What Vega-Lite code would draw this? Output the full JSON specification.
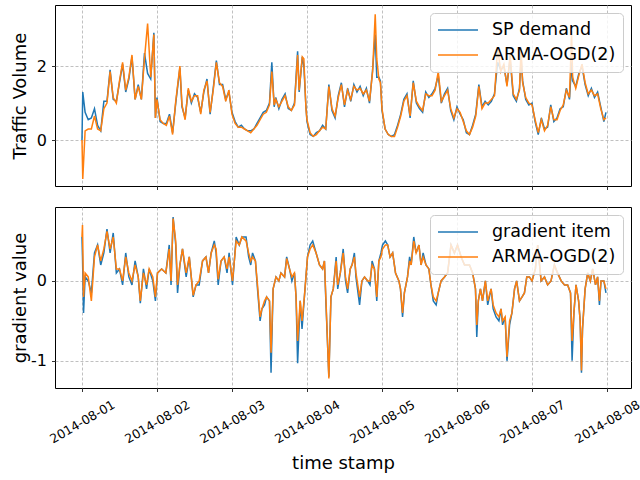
{
  "$schema": "https://vega.github.io/schema/vega-lite/v6.json",
  "padding": {"left": 10, "top": 4, "right": 0, "bottom": 0},
  "background": "white",
  "config": {
    "font": "DejaVu Sans",
    "view": {"stroke": "#000000", "strokeWidth": 1},
    "axis": {"grid": true, "gridColor": "#b0b0b0", "gridDash": [3, 2], "gridWidth": 0.8, "domain": false, "tickColor": "#000000", "tickSize": 3.5, "tickWidth": 0.8, "labelColor": "#000000", "labelFontSize": 16, "titleColor": "#000000", "titleFontWeight": "normal", "titleFontSize": 18},
    "legend": {"orient": "top-right", "offset": 8, "fillColor": "rgba(255,255,255,0.8)", "strokeColor": "#cccccc", "cornerRadius": 4, "padding": 7, "symbolType": "stroke", "symbolSize": 1600, "symbolStrokeWidth": 1.5, "labelFontSize": 17.5, "labelOffset": 13, "clipHeight": 20, "rowPadding": 5, "labelColor": "#000000"}
  },
  "datasets": {
    "top": [
      {"t":"2014-08-01T00:00","a":0,"b":0},
      {"t":"2014-08-01T00:15","a":1.3,"b":-1.05},
      {"t":"2014-08-01T01:00","a":0.75,"b":0.25},
      {"t":"2014-08-01T02:00","a":0.55,"b":0.3},
      {"t":"2014-08-01T03:00","a":0.6,"b":0.3},
      {"t":"2014-08-01T04:00","a":0.85,"b":0.65},
      {"t":"2014-08-01T05:00","a":0.4,"b":0.3},
      {"t":"2014-08-01T06:00","a":0.25,"b":0.25},
      {"t":"2014-08-01T07:00","a":1.05,"b":0.85},
      {"t":"2014-08-01T08:00","a":1.05,"b":1.0},
      {"t":"2014-08-01T09:00","a":1.9,"b":1.85},
      {"t":"2014-08-01T10:00","a":1.1,"b":1.15},
      {"t":"2014-08-01T11:00","a":1.05,"b":1.0},
      {"t":"2014-08-01T12:00","a":1.55,"b":1.6},
      {"t":"2014-08-01T13:00","a":2.05,"b":2.1},
      {"t":"2014-08-01T14:00","a":1.3,"b":1.35},
      {"t":"2014-08-01T15:00","a":1.65,"b":1.7},
      {"t":"2014-08-01T16:00","a":2.25,"b":2.3},
      {"t":"2014-08-01T17:00","a":1.1,"b":1.1},
      {"t":"2014-08-01T18:00","a":1.5,"b":1.45},
      {"t":"2014-08-01T19:00","a":1.1,"b":1.1},
      {"t":"2014-08-01T20:00","a":2.35,"b":2.2},
      {"t":"2014-08-01T21:00","a":1.8,"b":3.15},
      {"t":"2014-08-01T22:00","a":1.65,"b":1.7},
      {"t":"2014-08-01T23:00","a":2.9,"b":2.85},
      {"t":"2014-08-01T23:30","a":0.6,"b":0.6},
      {"t":"2014-08-02T00:00","a":1.15,"b":1.1},
      {"t":"2014-08-02T01:00","a":0.5,"b":0.55},
      {"t":"2014-08-02T02:00","a":0.45,"b":0.45},
      {"t":"2014-08-02T03:00","a":0.45,"b":0.4},
      {"t":"2014-08-02T04:00","a":0.7,"b":0.65},
      {"t":"2014-08-02T05:00","a":0.2,"b":0.15},
      {"t":"2014-08-02T06:00","a":1.0,"b":1.05},
      {"t":"2014-08-02T07:20","a":1.95,"b":2.0},
      {"t":"2014-08-02T08:00","a":0.9,"b":0.95},
      {"t":"2014-08-02T09:00","a":0.6,"b":0.55},
      {"t":"2014-08-02T10:00","a":1.35,"b":1.4},
      {"t":"2014-08-02T11:00","a":1.0,"b":1.05},
      {"t":"2014-08-02T12:00","a":1.25,"b":1.2},
      {"t":"2014-08-02T13:00","a":1.15,"b":1.2},
      {"t":"2014-08-02T14:00","a":0.75,"b":0.7},
      {"t":"2014-08-02T15:00","a":1.3,"b":1.35},
      {"t":"2014-08-02T16:00","a":1.65,"b":1.6},
      {"t":"2014-08-02T17:00","a":0.7,"b":0.75},
      {"t":"2014-08-02T18:00","a":1.4,"b":1.35},
      {"t":"2014-08-02T19:00","a":2.15,"b":2.1},
      {"t":"2014-08-02T20:00","a":1.5,"b":1.55},
      {"t":"2014-08-02T21:00","a":1.5,"b":1.45},
      {"t":"2014-08-02T22:00","a":1.1,"b":1.05},
      {"t":"2014-08-02T23:00","a":1.3,"b":1.35},
      {"t":"2014-08-03T00:00","a":0.75,"b":0.7},
      {"t":"2014-08-03T01:00","a":0.5,"b":0.45},
      {"t":"2014-08-03T02:00","a":0.35,"b":0.35},
      {"t":"2014-08-03T03:00","a":0.4,"b":0.35},
      {"t":"2014-08-03T04:00","a":0.3,"b":0.3},
      {"t":"2014-08-03T05:00","a":0.25,"b":0.25},
      {"t":"2014-08-03T06:00","a":0.25,"b":0.2},
      {"t":"2014-08-03T07:00","a":0.3,"b":0.3},
      {"t":"2014-08-03T08:00","a":0.45,"b":0.4},
      {"t":"2014-08-03T09:00","a":0.6,"b":0.55},
      {"t":"2014-08-03T10:00","a":0.75,"b":0.7},
      {"t":"2014-08-03T11:00","a":0.8,"b":0.75},
      {"t":"2014-08-03T12:00","a":1.0,"b":0.95},
      {"t":"2014-08-03T12:45","a":2.1,"b":1.85},
      {"t":"2014-08-03T13:30","a":0.9,"b":0.95},
      {"t":"2014-08-03T14:00","a":1.15,"b":1.1},
      {"t":"2014-08-03T15:00","a":0.85,"b":0.9},
      {"t":"2014-08-03T16:00","a":1.1,"b":1.05},
      {"t":"2014-08-03T17:00","a":1.25,"b":1.2},
      {"t":"2014-08-03T18:00","a":0.85,"b":0.9},
      {"t":"2014-08-03T19:00","a":0.8,"b":0.8},
      {"t":"2014-08-03T20:00","a":1.0,"b":0.95},
      {"t":"2014-08-03T21:00","a":2.4,"b":2.3},
      {"t":"2014-08-03T21:30","a":1.3,"b":1.35},
      {"t":"2014-08-03T22:30","a":2.25,"b":2.25},
      {"t":"2014-08-03T23:00","a":2.0,"b":2.2},
      {"t":"2014-08-03T23:40","a":0.9,"b":0.85},
      {"t":"2014-08-04T00:00","a":0.5,"b":0.55},
      {"t":"2014-08-04T01:00","a":0.15,"b":0.2},
      {"t":"2014-08-04T02:00","a":0.1,"b":0.1},
      {"t":"2014-08-04T03:00","a":0.2,"b":0.15},
      {"t":"2014-08-04T04:00","a":0.25,"b":0.25},
      {"t":"2014-08-04T05:00","a":0.4,"b":0.35},
      {"t":"2014-08-04T06:00","a":0.3,"b":0.3},
      {"t":"2014-08-04T07:00","a":1.5,"b":1.45},
      {"t":"2014-08-04T08:00","a":0.8,"b":0.85},
      {"t":"2014-08-04T09:00","a":0.6,"b":0.65},
      {"t":"2014-08-04T10:00","a":1.2,"b":1.15},
      {"t":"2014-08-04T11:00","a":1.55,"b":1.5},
      {"t":"2014-08-04T12:00","a":0.9,"b":0.95},
      {"t":"2014-08-04T13:00","a":1.4,"b":1.35},
      {"t":"2014-08-04T14:00","a":1.05,"b":1.1},
      {"t":"2014-08-04T15:00","a":1.5,"b":1.45},
      {"t":"2014-08-04T16:00","a":1.3,"b":1.35},
      {"t":"2014-08-04T17:00","a":1.45,"b":1.4},
      {"t":"2014-08-04T18:00","a":1.2,"b":1.25},
      {"t":"2014-08-04T19:00","a":1.4,"b":1.35},
      {"t":"2014-08-04T20:00","a":1.0,"b":1.05},
      {"t":"2014-08-04T21:00","a":1.9,"b":1.85},
      {"t":"2014-08-04T21:50","a":2.85,"b":3.4},
      {"t":"2014-08-04T22:20","a":1.7,"b":2.2},
      {"t":"2014-08-04T23:00","a":1.7,"b":1.65},
      {"t":"2014-08-04T23:30","a":1.6,"b":1.55},
      {"t":"2014-08-05T00:00","a":0.8,"b":0.85},
      {"t":"2014-08-05T01:00","a":0.3,"b":0.3},
      {"t":"2014-08-05T02:00","a":0.15,"b":0.15},
      {"t":"2014-08-05T03:00","a":0.1,"b":0.1},
      {"t":"2014-08-05T04:00","a":0.15,"b":0.1},
      {"t":"2014-08-05T05:00","a":0.4,"b":0.35},
      {"t":"2014-08-05T06:00","a":0.7,"b":0.65},
      {"t":"2014-08-05T07:00","a":1.1,"b":1.05},
      {"t":"2014-08-05T08:00","a":1.25,"b":1.2},
      {"t":"2014-08-05T09:00","a":0.6,"b":0.65},
      {"t":"2014-08-05T10:00","a":1.6,"b":1.55},
      {"t":"2014-08-05T11:00","a":1.0,"b":1.05},
      {"t":"2014-08-05T12:00","a":0.85,"b":0.9},
      {"t":"2014-08-05T13:00","a":0.75,"b":0.8},
      {"t":"2014-08-05T14:00","a":1.3,"b":1.25},
      {"t":"2014-08-05T15:00","a":1.15,"b":1.2},
      {"t":"2014-08-05T16:00","a":1.25,"b":1.2},
      {"t":"2014-08-05T17:00","a":1.4,"b":1.35},
      {"t":"2014-08-05T18:00","a":1.75,"b":1.85},
      {"t":"2014-08-05T19:00","a":1.0,"b":1.05},
      {"t":"2014-08-05T20:00","a":1.25,"b":1.2},
      {"t":"2014-08-05T21:00","a":1.4,"b":1.35},
      {"t":"2014-08-05T22:00","a":0.8,"b":0.85},
      {"t":"2014-08-05T23:00","a":0.55,"b":0.6},
      {"t":"2014-08-06T00:00","a":0.9,"b":0.85},
      {"t":"2014-08-06T01:00","a":0.7,"b":0.75},
      {"t":"2014-08-06T02:00","a":0.55,"b":0.5},
      {"t":"2014-08-06T03:00","a":0.2,"b":0.25},
      {"t":"2014-08-06T04:00","a":0.15,"b":0.15},
      {"t":"2014-08-06T05:00","a":0.4,"b":0.35},
      {"t":"2014-08-06T06:00","a":0.7,"b":0.65},
      {"t":"2014-08-06T07:00","a":1.5,"b":1.45},
      {"t":"2014-08-06T08:00","a":0.9,"b":0.85},
      {"t":"2014-08-06T09:00","a":1.05,"b":1.0},
      {"t":"2014-08-06T10:00","a":0.95,"b":1.0},
      {"t":"2014-08-06T11:00","a":1.05,"b":1.1},
      {"t":"2014-08-06T12:00","a":1.25,"b":1.2},
      {"t":"2014-08-06T13:00","a":2.1,"b":2.5},
      {"t":"2014-08-06T14:00","a":1.9,"b":1.85},
      {"t":"2014-08-06T15:00","a":2.0,"b":2.05},
      {"t":"2014-08-06T16:00","a":1.5,"b":1.45},
      {"t":"2014-08-06T17:00","a":2.2,"b":2.3},
      {"t":"2014-08-06T18:00","a":1.2,"b":1.25},
      {"t":"2014-08-06T19:00","a":1.05,"b":1.1},
      {"t":"2014-08-06T20:00","a":1.4,"b":1.35},
      {"t":"2014-08-06T20:30","a":2.2,"b":2.5},
      {"t":"2014-08-06T21:00","a":1.6,"b":1.55},
      {"t":"2014-08-06T22:00","a":1.1,"b":1.15},
      {"t":"2014-08-06T23:00","a":0.95,"b":1.0},
      {"t":"2014-08-07T00:00","a":1.0,"b":0.95},
      {"t":"2014-08-07T01:00","a":0.5,"b":0.55},
      {"t":"2014-08-07T02:00","a":0.15,"b":0.2},
      {"t":"2014-08-07T03:00","a":0.6,"b":0.55},
      {"t":"2014-08-07T04:00","a":0.3,"b":0.25},
      {"t":"2014-08-07T05:00","a":0.35,"b":0.4},
      {"t":"2014-08-07T06:00","a":0.95,"b":0.9},
      {"t":"2014-08-07T07:00","a":0.5,"b":0.55},
      {"t":"2014-08-07T08:00","a":0.6,"b":0.55},
      {"t":"2014-08-07T09:00","a":0.85,"b":0.8},
      {"t":"2014-08-07T10:00","a":0.9,"b":0.95},
      {"t":"2014-08-07T11:00","a":1.4,"b":1.35},
      {"t":"2014-08-07T12:00","a":1.1,"b":1.15},
      {"t":"2014-08-07T12:40","a":2.1,"b":2.95},
      {"t":"2014-08-07T13:00","a":1.6,"b":1.7},
      {"t":"2014-08-07T14:00","a":1.45,"b":1.4},
      {"t":"2014-08-07T15:00","a":1.8,"b":1.75},
      {"t":"2014-08-07T16:00","a":2.0,"b":2.05},
      {"t":"2014-08-07T17:00","a":1.5,"b":1.55},
      {"t":"2014-08-07T18:00","a":1.2,"b":1.25},
      {"t":"2014-08-07T19:00","a":1.4,"b":1.35},
      {"t":"2014-08-07T20:00","a":1.15,"b":1.2},
      {"t":"2014-08-07T21:00","a":1.3,"b":1.25},
      {"t":"2014-08-07T22:00","a":0.9,"b":0.85},
      {"t":"2014-08-07T23:00","a":0.5,"b":0.55},
      {"t":"2014-08-07T23:40","a":0.75,"b":0.6}
    ],
    "bot": [
      {"t":"2014-08-01T00:00","g":0.55,"q":0.55},
      {"t":"2014-08-01T00:10","g":0.3,"q":0.7},
      {"t":"2014-08-01T00:30","g":-0.4,"q":-0.2},
      {"t":"2014-08-01T01:00","g":0.05,"q":0.1},
      {"t":"2014-08-01T02:00","g":0.0,"q":0.05},
      {"t":"2014-08-01T03:00","g":-0.15,"q":-0.25},
      {"t":"2014-08-01T04:00","g":0.35,"q":0.3},
      {"t":"2014-08-01T05:00","g":0.45,"q":0.45},
      {"t":"2014-08-01T06:00","g":0.2,"q":0.25},
      {"t":"2014-08-01T07:00","g":0.35,"q":0.4},
      {"t":"2014-08-01T08:00","g":0.65,"q":0.62},
      {"t":"2014-08-01T09:00","g":0.35,"q":0.4},
      {"t":"2014-08-01T10:00","g":0.6,"q":0.55},
      {"t":"2014-08-01T11:00","g":0.1,"q":0.15},
      {"t":"2014-08-01T12:00","g":0.15,"q":0.15},
      {"t":"2014-08-01T13:00","g":-0.05,"q":0.0},
      {"t":"2014-08-01T14:00","g":0.35,"q":0.3},
      {"t":"2014-08-01T15:00","g":0.05,"q":0.1},
      {"t":"2014-08-01T16:00","g":-0.05,"q":0.0},
      {"t":"2014-08-01T17:00","g":0.25,"q":0.2},
      {"t":"2014-08-01T18:00","g":0.05,"q":0.05},
      {"t":"2014-08-01T18:40","g":-0.28,"q":-0.25},
      {"t":"2014-08-01T19:40","g":0.15,"q":0.1},
      {"t":"2014-08-01T20:40","g":-0.1,"q":-0.05},
      {"t":"2014-08-01T21:30","g":0.15,"q":0.15},
      {"t":"2014-08-01T22:40","g":0.0,"q":0.05},
      {"t":"2014-08-01T23:30","g":-0.25,"q":-0.2},
      {"t":"2014-08-02T00:10","g":0.1,"q":0.1},
      {"t":"2014-08-02T01:30","g":0.15,"q":0.15},
      {"t":"2014-08-02T02:50","g":0.1,"q":0.1},
      {"t":"2014-08-02T03:55","g":0.45,"q":0.4},
      {"t":"2014-08-02T04:30","g":-0.05,"q":0.0},
      {"t":"2014-08-02T05:10","g":0.8,"q":0.78},
      {"t":"2014-08-02T06:00","g":0.45,"q":0.5},
      {"t":"2014-08-02T06:35","g":-0.15,"q":-0.05},
      {"t":"2014-08-02T07:20","g":0.2,"q":0.2},
      {"t":"2014-08-02T08:10","g":0.4,"q":0.4},
      {"t":"2014-08-02T09:20","g":0.05,"q":0.1},
      {"t":"2014-08-02T10:20","g":0.3,"q":0.3},
      {"t":"2014-08-02T11:35","g":-0.2,"q":-0.18},
      {"t":"2014-08-02T12:30","g":-0.05,"q":-0.05},
      {"t":"2014-08-02T13:30","g":-0.05,"q":0.0},
      {"t":"2014-08-02T14:35","g":0.25,"q":0.25},
      {"t":"2014-08-02T15:40","g":0.3,"q":0.3},
      {"t":"2014-08-02T16:30","g":0.1,"q":0.1},
      {"t":"2014-08-02T17:20","g":0.35,"q":0.35},
      {"t":"2014-08-02T18:20","g":0.5,"q":0.45},
      {"t":"2014-08-02T18:55","g":0.35,"q":0.4},
      {"t":"2014-08-02T19:35","g":-0.05,"q":0.02},
      {"t":"2014-08-02T20:30","g":0.25,"q":0.25},
      {"t":"2014-08-02T21:30","g":0.3,"q":0.3},
      {"t":"2014-08-02T22:25","g":0.1,"q":0.15},
      {"t":"2014-08-02T23:05","g":0.35,"q":0.3},
      {"t":"2014-08-03T00:10","g":-0.05,"q":0.0},
      {"t":"2014-08-03T01:20","g":0.55,"q":0.5},
      {"t":"2014-08-03T02:20","g":0.45,"q":0.45},
      {"t":"2014-08-03T03:10","g":0.55,"q":0.55},
      {"t":"2014-08-03T04:30","g":0.55,"q":0.5},
      {"t":"2014-08-03T05:20","g":0.3,"q":0.35},
      {"t":"2014-08-03T06:00","g":0.2,"q":0.25},
      {"t":"2014-08-03T06:35","g":0.35,"q":0.3},
      {"t":"2014-08-03T07:30","g":0.25,"q":0.25},
      {"t":"2014-08-03T08:10","g":-0.1,"q":-0.05},
      {"t":"2014-08-03T09:00","g":-0.5,"q":-0.45},
      {"t":"2014-08-03T09:35","g":-0.35,"q":-0.35},
      {"t":"2014-08-03T10:25","g":-0.3,"q":-0.25},
      {"t":"2014-08-03T11:05","g":-0.2,"q":-0.2},
      {"t":"2014-08-03T12:00","g":-0.25,"q":-0.25},
      {"t":"2014-08-03T12:30","g":-1.15,"q":-0.9},
      {"t":"2014-08-03T13:10","g":-0.1,"q":-0.1},
      {"t":"2014-08-03T14:05","g":0.05,"q":0.05},
      {"t":"2014-08-03T15:00","g":0.0,"q":0.0},
      {"t":"2014-08-03T15:40","g":0.1,"q":0.1},
      {"t":"2014-08-03T16:50","g":0.05,"q":0.05},
      {"t":"2014-08-03T17:30","g":0.3,"q":0.28},
      {"t":"2014-08-03T18:25","g":0.15,"q":0.15},
      {"t":"2014-08-03T19:10","g":0.0,"q":0.05},
      {"t":"2014-08-03T20:00","g":0.1,"q":0.1},
      {"t":"2014-08-03T20:30","g":-0.2,"q":-0.2},
      {"t":"2014-08-03T21:00","g":-1.03,"q":-0.75},
      {"t":"2014-08-03T21:50","g":-0.25,"q":-0.25},
      {"t":"2014-08-03T22:25","g":-0.6,"q":-0.5},
      {"t":"2014-08-03T23:10","g":-0.2,"q":-0.2},
      {"t":"2014-08-03T23:40","g":0.05,"q":0.05},
      {"t":"2014-08-04T00:10","g":0.3,"q":0.3},
      {"t":"2014-08-04T01:00","g":0.45,"q":0.4},
      {"t":"2014-08-04T01:50","g":0.5,"q":0.45},
      {"t":"2014-08-04T02:55","g":0.35,"q":0.35},
      {"t":"2014-08-04T04:00","g":0.2,"q":0.2},
      {"t":"2014-08-04T05:00","g":0.15,"q":0.15},
      {"t":"2014-08-04T05:35","g":0.25,"q":0.25},
      {"t":"2014-08-04T06:05","g":-0.3,"q":-0.25},
      {"t":"2014-08-04T07:00","g":-1.2,"q":-1.22},
      {"t":"2014-08-04T07:40","g":-0.2,"q":-0.2},
      {"t":"2014-08-04T08:25","g":-0.1,"q":-0.1},
      {"t":"2014-08-04T09:20","g":0.3,"q":0.25},
      {"t":"2014-08-04T09:50","g":-0.1,"q":-0.05},
      {"t":"2014-08-04T10:40","g":0.1,"q":0.1},
      {"t":"2014-08-04T11:35","g":0.4,"q":0.35},
      {"t":"2014-08-04T12:20","g":0.0,"q":0.05},
      {"t":"2014-08-04T13:00","g":-0.15,"q":-0.1},
      {"t":"2014-08-04T13:50","g":0.15,"q":0.15},
      {"t":"2014-08-04T14:25","g":0.2,"q":0.2},
      {"t":"2014-08-04T15:10","g":0.35,"q":0.3},
      {"t":"2014-08-04T15:40","g":0.05,"q":0.1},
      {"t":"2014-08-04T16:50","g":-0.3,"q":-0.2},
      {"t":"2014-08-04T17:35","g":0.0,"q":0.0},
      {"t":"2014-08-04T18:25","g":0.05,"q":0.05},
      {"t":"2014-08-04T19:25","g":0.0,"q":0.0},
      {"t":"2014-08-04T20:10","g":-0.05,"q":0.0},
      {"t":"2014-08-04T20:50","g":0.25,"q":0.2},
      {"t":"2014-08-04T21:35","g":0.15,"q":0.15},
      {"t":"2014-08-04T22:20","g":-0.25,"q":-0.2},
      {"t":"2014-08-04T23:00","g":0.25,"q":0.25},
      {"t":"2014-08-04T23:40","g":0.35,"q":0.3},
      {"t":"2014-08-05T00:10","g":0.45,"q":0.4},
      {"t":"2014-08-05T01:05","g":0.5,"q":0.45},
      {"t":"2014-08-05T01:50","g":0.45,"q":0.45},
      {"t":"2014-08-05T02:35","g":0.3,"q":0.3},
      {"t":"2014-08-05T03:25","g":0.35,"q":0.35},
      {"t":"2014-08-05T04:20","g":0.1,"q":0.1},
      {"t":"2014-08-05T05:25","g":0.0,"q":0.0},
      {"t":"2014-08-05T05:55","g":-0.1,"q":-0.1},
      {"t":"2014-08-05T06:35","g":-0.45,"q":-0.4},
      {"t":"2014-08-05T07:10","g":-0.15,"q":-0.15},
      {"t":"2014-08-05T07:40","g":-0.05,"q":-0.05},
      {"t":"2014-08-05T08:10","g":0.05,"q":0.05},
      {"t":"2014-08-05T08:50","g":0.3,"q":0.25},
      {"t":"2014-08-05T09:20","g":0.2,"q":0.2},
      {"t":"2014-08-05T10:10","g":0.55,"q":0.5},
      {"t":"2014-08-05T10:55","g":0.35,"q":0.35},
      {"t":"2014-08-05T11:50","g":0.45,"q":0.45},
      {"t":"2014-08-05T12:30","g":0.2,"q":0.2},
      {"t":"2014-08-05T13:10","g":0.35,"q":0.3},
      {"t":"2014-08-05T14:05","g":0.2,"q":0.2},
      {"t":"2014-08-05T15:00","g":0.15,"q":0.15},
      {"t":"2014-08-05T15:40","g":-0.05,"q":-0.05},
      {"t":"2014-08-05T16:25","g":-0.25,"q":-0.2},
      {"t":"2014-08-05T17:20","g":-0.3,"q":-0.25},
      {"t":"2014-08-05T18:00","g":-0.15,"q":-0.15},
      {"t":"2014-08-05T18:55","g":0.0,"q":0.0},
      {"t":"2014-08-05T20:00","g":0.05,"q":0.05},
      {"t":"2014-08-05T21:00","g":0.1,"q":0.1},
      {"t":"2014-08-05T22:05","g":0.45,"q":0.45},
      {"t":"2014-08-05T23:10","g":0.35,"q":0.35},
      {"t":"2014-08-06T00:10","g":0.45,"q":0.45},
      {"t":"2014-08-06T01:20","g":0.3,"q":0.3},
      {"t":"2014-08-06T02:25","g":0.2,"q":0.2},
      {"t":"2014-08-06T04:00","g":0.2,"q":0.2},
      {"t":"2014-08-06T05:00","g":0.1,"q":0.1},
      {"t":"2014-08-06T05:55","g":-0.1,"q":-0.1},
      {"t":"2014-08-06T06:20","g":-0.7,"q":-0.55},
      {"t":"2014-08-06T06:50","g":-0.25,"q":-0.25},
      {"t":"2014-08-06T07:30","g":-0.1,"q":-0.1},
      {"t":"2014-08-06T08:10","g":-0.25,"q":-0.25},
      {"t":"2014-08-06T09:05","g":0.0,"q":0.0},
      {"t":"2014-08-06T09:50","g":-0.3,"q":-0.25},
      {"t":"2014-08-06T10:55","g":-0.1,"q":-0.1},
      {"t":"2014-08-06T11:35","g":-0.35,"q":-0.3},
      {"t":"2014-08-06T12:30","g":-0.45,"q":-0.4},
      {"t":"2014-08-06T13:25","g":-0.5,"q":-0.45},
      {"t":"2014-08-06T14:05","g":-0.35,"q":-0.35},
      {"t":"2014-08-06T14:35","g":-0.55,"q":-0.5},
      {"t":"2014-08-06T15:25","g":-0.45,"q":-0.45},
      {"t":"2014-08-06T16:00","g":-1.0,"q":-0.95},
      {"t":"2014-08-06T16:50","g":-0.55,"q":-0.5},
      {"t":"2014-08-06T17:35","g":-0.4,"q":-0.4},
      {"t":"2014-08-06T18:25","g":-0.1,"q":-0.1},
      {"t":"2014-08-06T19:05","g":0.0,"q":0.0},
      {"t":"2014-08-06T20:00","g":-0.25,"q":-0.25},
      {"t":"2014-08-06T20:50","g":-0.2,"q":-0.2},
      {"t":"2014-08-06T21:35","g":-0.15,"q":-0.15},
      {"t":"2014-08-06T22:20","g":0.05,"q":0.05},
      {"t":"2014-08-06T23:10","g":0.05,"q":0.05},
      {"t":"2014-08-07T00:00","g":0.0,"q":0.0},
      {"t":"2014-08-07T01:05","g":0.15,"q":0.15},
      {"t":"2014-08-07T01:50","g":0.45,"q":0.45},
      {"t":"2014-08-07T02:55","g":0.0,"q":0.0},
      {"t":"2014-08-07T04:00","g":0.05,"q":0.05},
      {"t":"2014-08-07T05:00","g":-0.05,"q":-0.05},
      {"t":"2014-08-07T06:05","g":0.0,"q":0.0},
      {"t":"2014-08-07T07:10","g":0.2,"q":0.2},
      {"t":"2014-08-07T08:10","g":0.1,"q":0.1},
      {"t":"2014-08-07T09:20","g":0.0,"q":0.0},
      {"t":"2014-08-07T10:25","g":-0.05,"q":-0.05},
      {"t":"2014-08-07T11:25","g":-0.05,"q":-0.05},
      {"t":"2014-08-07T12:20","g":-0.15,"q":-0.15},
      {"t":"2014-08-07T12:50","g":-1.0,"q":-0.75},
      {"t":"2014-08-07T13:25","g":-0.4,"q":-0.4},
      {"t":"2014-08-07T14:05","g":-0.05,"q":-0.05},
      {"t":"2014-08-07T14:55","g":-0.25,"q":-0.25},
      {"t":"2014-08-07T15:25","g":-0.5,"q":-0.5},
      {"t":"2014-08-07T15:50","g":-1.15,"q":-1.12},
      {"t":"2014-08-07T16:10","g":-0.6,"q":-0.6},
      {"t":"2014-08-07T17:00","g":-0.1,"q":-0.1},
      {"t":"2014-08-07T17:50","g":0.1,"q":0.1},
      {"t":"2014-08-07T18:40","g":0.0,"q":0.0},
      {"t":"2014-08-07T19:25","g":0.15,"q":0.15},
      {"t":"2014-08-07T20:20","g":-0.05,"q":-0.05},
      {"t":"2014-08-07T21:00","g":0.05,"q":0.05},
      {"t":"2014-08-07T21:35","g":-0.3,"q":-0.25},
      {"t":"2014-08-07T22:05","g":0.0,"q":0.0},
      {"t":"2014-08-07T23:00","g":0.0,"q":0.0},
      {"t":"2014-08-07T23:40","g":-0.15,"q":-0.1}
    ]
  },
  "spacing": 15,
  "resolve": {"scale": {"color": "independent", "x": "independent", "y": "independent"}, "legend": {"color": "independent"}},
  "vconcat": [
    {
      "width": 576, "height": 181,
      "data": {"name": "top"},
      "encoding": {
        "x": {"field": "t", "type": "temporal", "scale": {"domain": ["2014-07-31T15:22:00", "2014-08-08T07:41:00"]},
              "axis": {"labels": false, "title": null, "tickCount": {"interval": "day", "step": 1}}}
      },
      "layer": [
        {"mark": {"type": "line", "strokeWidth": 1.5},
         "encoding": {
           "y": {"field": "a", "type": "quantitative", "title": "Traffic Volume", "scale": {"domain": [-1.24, 3.65], "nice": false, "zero": false},
                 "axis": {"values": [0, 2], "titleX": -30, "titleBaseline": "alphabetic", "labelPadding": 5, "labelExpr": "datum.value + ''"}},
           "color": {"datum": "SP demand", "type": "nominal", "scale": {"domain": ["SP demand", "ARMA-OGD(2)"], "range": ["#1f77b4", "#ff7f0e"]}, "legend": {"title": null}}
         }},
        {"mark": {"type": "line", "strokeWidth": 1.5},
         "encoding": {
           "y": {"field": "b", "type": "quantitative", "title": "Traffic Volume"},
           "color": {"datum": "ARMA-OGD(2)", "type": "nominal"}
         }}
      ]
    },
    {
      "width": 576, "height": 181,
      "data": {"name": "bot"},
      "encoding": {
        "x": {"field": "t", "type": "temporal", "scale": {"domain": ["2014-07-31T15:22:00", "2014-08-08T07:41:00"]},
              "axis": {"title": "time stamp", "format": "%Y-%m-%d", "tickCount": {"interval": "day", "step": 1}, "labelAngle": -30, "labelAlign": "center", "labelBaseline": "middle", "labelPadding": 30, "labelDx": -3.5, "labelDy": -2, "labelFontSize": 12.5, "labelFlush": false, "labelOverlap": false, "titleFontSize": 18, "titleY": 75, "titleBaseline": "middle"}}
      },
      "layer": [
        {"mark": {"type": "line", "strokeWidth": 1.5},
         "encoding": {
           "y": {"field": "g", "type": "quantitative", "title": "gradient value", "scale": {"domain": [-1.34, 0.925], "nice": false, "zero": false},
                 "axis": {"values": [-1, 0], "titleX": -30, "titleBaseline": "alphabetic", "labelPadding": 5, "labelExpr": "datum.value + ''"}},
           "color": {"datum": "gradient item", "type": "nominal", "scale": {"domain": ["gradient item", "ARMA-OGD(2)"], "range": ["#1f77b4", "#ff7f0e"]}, "legend": {"title": null}}
         }},
        {"mark": {"type": "line", "strokeWidth": 1.5},
         "encoding": {
           "y": {"field": "q", "type": "quantitative", "title": "gradient value"},
           "color": {"datum": "ARMA-OGD(2)", "type": "nominal"}
         }}
      ]
    }
  ]
}
